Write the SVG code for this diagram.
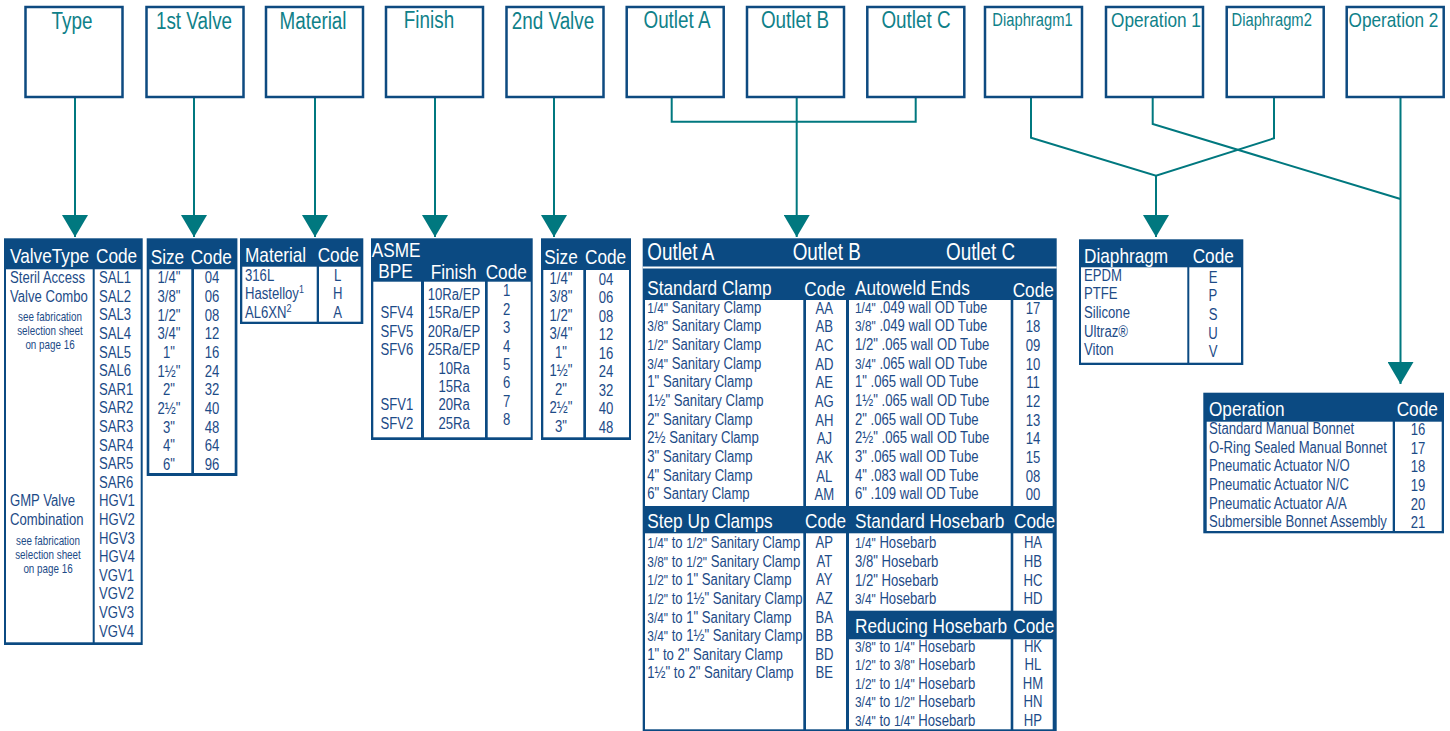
<svg xmlns="http://www.w3.org/2000/svg" width="1450" height="731" viewBox="0 0 1450 731">
<defs>
<style>
text{font-family:"Liberation Sans Narrow","Arial Narrow","Liberation Sans",Arial,sans-serif;transform:scaleX(0.82);transform-box:fill-box;transform-origin:0 0}
.box{fill:#fff;stroke:#0d4a80;stroke-width:2.5}
.lbl{fill:#0f8189;font-size:23px;text-anchor:middle}
.lbs{fill:#0f8189;font-size:18px;text-anchor:middle}
.lbo{fill:#0f8189;font-size:21px;text-anchor:middle}
.ln{fill:none;stroke:#00787f;stroke-width:2}
.bg{fill:#0b4a82}
.c{fill:#fff}
.h{fill:#fff;font-size:21px}
.ho{fill:#fff;font-size:23px}
.t{fill:#1d4b87;font-size:16px}
.m{text-anchor:middle}
.m,.lbl,.lbs,.lbo{transform-origin:50% 0}
.s{font-size:12px}
.f{font-size:14.5px}
.sup{font-size:11px}
</style>
<marker id="ah" markerUnits="userSpaceOnUse" markerWidth="22" markerHeight="26" viewBox="0 0 22 26" refX="22" refY="13" orient="auto">
<path d="M0,0 L22,13 L0,26 z" fill="#00787f"/>
</marker>
</defs>
<rect width="1450" height="731" fill="#fff"/>

<g id="connectors">
<path class="ln" d="M75,97 V237" marker-end="url(#ah)"/>
<path class="ln" d="M194,97 V237" marker-end="url(#ah)"/>
<path class="ln" d="M315,97 V237" marker-end="url(#ah)"/>
<path class="ln" d="M435,97 V237" marker-end="url(#ah)"/>
<path class="ln" d="M554,97 V237" marker-end="url(#ah)"/>
<path class="ln" d="M671.7,97 V121.7 H915.7 V97"/>
<path class="ln" d="M796.7,97 V237" marker-end="url(#ah)"/>
<path class="ln" d="M1031,97 V137.7 L1156,175.7 L1274,138.3 V97"/>
<path class="ln" d="M1156,175.7 V237" marker-end="url(#ah)"/>
<path class="ln" d="M1152.7,97 V124 L1400.5,199"/>
<path class="ln" d="M1400.5,97 V384" marker-end="url(#ah)"/>
</g>

<g id="box-type"><rect class="box" x="25.5" y="7" width="97" height="90"/><text class="lbl" x="72" y="29">Type</text></g>
<g id="box-1st-valve"><rect class="box" x="146.5" y="7" width="97" height="90"/><text class="lbl" x="194" y="29">1st Valve</text></g>
<g id="box-material"><rect class="box" x="266" y="7" width="97" height="90"/><text class="lbl" x="313" y="29">Material</text></g>
<g id="box-finish"><rect class="box" x="386" y="7" width="97" height="90"/><text class="lbl" x="429" y="28">Finish</text></g>
<g id="box-2nd-valve"><rect class="box" x="506.5" y="7" width="97" height="90"/><text class="lbl" x="553" y="29">2nd Valve</text></g>
<g id="box-outlet-a"><rect class="box" x="626.7" y="7" width="97" height="90"/><text class="lbl" x="677" y="28.3">Outlet A</text></g>
<g id="box-outlet-b"><rect class="box" x="747" y="7" width="97" height="90"/><text class="lbl" x="795" y="28.3">Outlet B</text></g>
<g id="box-outlet-c"><rect class="box" x="867.3" y="7" width="97" height="90"/><text class="lbl" x="916" y="28.3">Outlet C</text></g>
<g id="box-diaphragm1"><rect class="box" x="985" y="7" width="97" height="90"/><text class="lbs" x="1032.5" y="26">Diaphragm1</text></g>
<g id="box-operation1"><rect class="box" x="1106" y="7" width="97" height="90"/><text class="lbo" x="1156" y="26.7">Operation 1</text></g>
<g id="box-diaphragm2"><rect class="box" x="1226.7" y="7" width="97" height="90"/><text class="lbs" x="1271.7" y="26">Diaphragm2</text></g>
<g id="box-operation2"><rect class="box" x="1346.7" y="7" width="97" height="90"/><text class="lbo" x="1393.5" y="26.7">Operation 2</text></g>

<g id="table-type">
<rect class="bg" x="4" y="238.3" width="138.7" height="406.7"/>
<rect class="c" x="6" y="269.3" width="86.7" height="373"/>
<rect class="c" x="94.7" y="269.3" width="46" height="373"/>
<text class="h" x="10" y="263">ValveType</text>
<text class="h" x="96" y="263">Code</text>
<text class="t" x="10" y="283.3">Steril Access</text>
<text class="t" x="10" y="301.9">Valve Combo</text>
<text class="t s m" x="50" y="320.7">see fabrication</text>
<text class="t s m" x="50" y="335">selection sheet</text>
<text class="t s m" x="50" y="349.3">on page 16</text>
<text class="t" x="10" y="506.5">GMP Valve</text>
<text class="t" x="10" y="525.1">Combination</text>
<text class="t s m" x="48" y="545">see fabrication</text>
<text class="t s m" x="48" y="559.5">selection sheet</text>
<text class="t s m" x="48" y="573.5">on page 16</text>
<text class="t" x="99" y="283.3">SAL1</text>
<text class="t" x="99" y="301.9">SAL2</text>
<text class="t" x="99" y="320.5">SAL3</text>
<text class="t" x="99" y="339.1">SAL4</text>
<text class="t" x="99" y="357.7">SAL5</text>
<text class="t" x="99" y="376.3">SAL6</text>
<text class="t" x="99" y="394.9">SAR1</text>
<text class="t" x="99" y="413.5">SAR2</text>
<text class="t" x="99" y="432.1">SAR3</text>
<text class="t" x="99" y="450.7">SAR4</text>
<text class="t" x="99" y="469.3">SAR5</text>
<text class="t" x="99" y="487.9">SAR6</text>
<text class="t" x="99" y="506.5">HGV1</text>
<text class="t" x="99" y="525.1">HGV2</text>
<text class="t" x="99" y="543.7">HGV3</text>
<text class="t" x="99" y="562.3">HGV4</text>
<text class="t" x="99" y="580.9">VGV1</text>
<text class="t" x="99" y="599.5">VGV2</text>
<text class="t" x="99" y="618.1">VGV3</text>
<text class="t" x="99" y="636.7">VGV4</text>
</g>

<g id="table-1st-valve">
<rect class="bg" x="146.7" y="238.3" width="90.7" height="237.7"/>
<rect class="c" x="149.3" y="269.3" width="42" height="203.7"/>
<rect class="c" x="194" y="269.3" width="40.7" height="203.7"/>
<text class="h" x="150.7" y="264">Size</text>
<text class="h" x="190.7" y="264">Code</text>
<text class="t m" x="169" y="283.3">1/4"</text>
<text class="t m" x="169" y="302">3/8"</text>
<text class="t m" x="169" y="320.6">1/2"</text>
<text class="t m" x="169" y="339.3">3/4"</text>
<text class="t m" x="169" y="358">1"</text>
<text class="t m" x="169" y="376.6">1½"</text>
<text class="t m" x="169" y="395.3">2"</text>
<text class="t m" x="169" y="414">2½"</text>
<text class="t m" x="169" y="432.6">3"</text>
<text class="t m" x="169" y="451.3">4"</text>
<text class="t m" x="169" y="470">6"</text>
<text class="t m" x="212" y="283.3">04</text>
<text class="t m" x="212" y="302">06</text>
<text class="t m" x="212" y="320.6">08</text>
<text class="t m" x="212" y="339.3">12</text>
<text class="t m" x="212" y="358">16</text>
<text class="t m" x="212" y="376.6">24</text>
<text class="t m" x="212" y="395.3">32</text>
<text class="t m" x="212" y="414">40</text>
<text class="t m" x="212" y="432.6">48</text>
<text class="t m" x="212" y="451.3">64</text>
<text class="t m" x="212" y="470">96</text>
</g>

<g id="table-material">
<rect class="bg" x="240" y="238.3" width="123.3" height="85.7"/>
<rect class="c" x="242.3" y="266.7" width="74.4" height="55"/>
<rect class="c" x="319" y="266.7" width="41.7" height="55"/>
<text class="h" x="245" y="261.7">Material</text>
<text class="h" x="317.7" y="261.7">Code</text>
<text class="t" x="245" y="280.7">316L</text>
<text class="t" x="245" y="299.3">Hastelloy<tspan class="sup" dy="-6">1</tspan></text>
<text class="t" x="245" y="317.7">AL6XN<tspan class="sup" dy="-6">2</tspan></text>
<text class="t m" x="337.7" y="280.7">L</text>
<text class="t m" x="337.7" y="299.3">H</text>
<text class="t m" x="337.7" y="317.7">A</text>
</g>

<g id="table-finish">
<rect class="bg" x="371" y="238.3" width="161.7" height="201.7"/>
<rect class="c" x="373.3" y="281.7" width="47.7" height="155.6"/>
<rect class="c" x="424" y="281.7" width="61" height="155.6"/>
<rect class="c" x="487.7" y="281.7" width="43" height="155.6"/>
<text class="h" x="371.7" y="257.3">ASME</text>
<text class="h" x="378.3" y="278.3">BPE</text>
<text class="h" x="430.7" y="279.3">Finish</text>
<text class="h" x="485.7" y="279">Code</text>
<text class="t m" x="397" y="318.4">SFV4</text>
<text class="t m" x="397" y="336.8">SFV5</text>
<text class="t m" x="397" y="355.2">SFV6</text>
<text class="t m" x="397" y="410.4">SFV1</text>
<text class="t m" x="397" y="428.8">SFV2</text>
<text class="t m" x="454" y="300">10Ra/EP</text>
<text class="t m" x="454" y="318.4">15Ra/EP</text>
<text class="t m" x="454" y="336.8">20Ra/EP</text>
<text class="t m" x="454" y="355.2">25Ra/EP</text>
<text class="t m" x="454" y="373.6">10Ra</text>
<text class="t m" x="454" y="392">15Ra</text>
<text class="t m" x="454" y="410.4">20Ra</text>
<text class="t m" x="454" y="428.8">25Ra</text>
<text class="t m" x="506.7" y="296.5">1</text>
<text class="t m" x="506.7" y="314.9">2</text>
<text class="t m" x="506.7" y="333.3">3</text>
<text class="t m" x="506.7" y="351.7">4</text>
<text class="t m" x="506.7" y="370.1">5</text>
<text class="t m" x="506.7" y="388.5">6</text>
<text class="t m" x="506.7" y="406.9">7</text>
<text class="t m" x="506.7" y="425.3">8</text>
</g>

<g id="table-2nd-valve">
<rect class="bg" x="541" y="238.3" width="90" height="201.7"/>
<rect class="c" x="543.3" y="270" width="40" height="167.3"/>
<rect class="c" x="586" y="270" width="43" height="167.3"/>
<text class="h" x="544.3" y="264.3">Size</text>
<text class="h" x="585" y="264.3">Code</text>
<text class="t m" x="561" y="284">1/4"</text>
<text class="t m" x="561" y="302.5">3/8"</text>
<text class="t m" x="561" y="320.9">1/2"</text>
<text class="t m" x="561" y="339.4">3/4"</text>
<text class="t m" x="561" y="357.8">1"</text>
<text class="t m" x="561" y="376.3">1½"</text>
<text class="t m" x="561" y="394.8">2"</text>
<text class="t m" x="561" y="413.2">2½"</text>
<text class="t m" x="561" y="431.7">3"</text>
<text class="t m" x="606" y="285">04</text>
<text class="t m" x="606" y="303.5">06</text>
<text class="t m" x="606" y="321.9">08</text>
<text class="t m" x="606" y="340.4">12</text>
<text class="t m" x="606" y="358.8">16</text>
<text class="t m" x="606" y="377.3">24</text>
<text class="t m" x="606" y="395.8">32</text>
<text class="t m" x="606" y="414.2">40</text>
<text class="t m" x="606" y="432.7">48</text>
</g>

<g id="table-outlet">
<rect class="bg" x="642.7" y="238.3" width="414" height="492.7"/>
<rect class="c" x="642.7" y="266.5" width="414" height="2"/>
<text class="ho" x="647.3" y="260">Outlet A</text>
<text class="ho" x="792.7" y="260">Outlet B</text>
<text class="ho" x="946" y="260">Outlet C</text>
<rect class="c" x="645" y="300" width="158.3" height="206"/>
<rect class="c" x="806" y="300" width="40" height="206"/>
<rect class="c" x="849" y="300" width="161.7" height="206"/>
<rect class="c" x="1013.3" y="300" width="39.4" height="206"/>
<text class="h" x="647.3" y="295">Standard Clamp</text>
<text class="h" x="804.3" y="296">Code</text>
<text class="h" x="855" y="295">Autoweld Ends</text>
<text class="h" x="1012.7" y="296.7">Code</text>
<text class="t" x="647.3" y="312.7"><tspan class="f">1/4"</tspan> Sanitary Clamp</text>
<text class="t" x="647.3" y="331.4"><tspan class="f">3/8"</tspan> Sanitary Clamp</text>
<text class="t" x="647.3" y="350"><tspan class="f">1/2"</tspan> Sanitary Clamp</text>
<text class="t" x="647.3" y="368.7"><tspan class="f">3/4"</tspan> Sanitary Clamp</text>
<text class="t" x="647.3" y="387.4">1" Sanitary Clamp</text>
<text class="t" x="647.3" y="406">1½" Sanitary Clamp</text>
<text class="t" x="647.3" y="424.7">2" Sanitary Clamp</text>
<text class="t" x="647.3" y="443.4">2½ Sanitary Clamp</text>
<text class="t" x="647.3" y="462">3" Sanitary Clamp</text>
<text class="t" x="647.3" y="480.7">4" Sanitary Clamp</text>
<text class="t" x="647.3" y="499.4">6" Santary Clamp</text>
<text class="t m" x="824.3" y="313.7">AA</text>
<text class="t m" x="824.3" y="332.4">AB</text>
<text class="t m" x="824.3" y="351">AC</text>
<text class="t m" x="824.3" y="369.7">AD</text>
<text class="t m" x="824.3" y="388.4">AE</text>
<text class="t m" x="824.3" y="407">AG</text>
<text class="t m" x="824.3" y="425.7">AH</text>
<text class="t m" x="824.3" y="444.4">AJ</text>
<text class="t m" x="824.3" y="463">AK</text>
<text class="t m" x="824.3" y="481.7">AL</text>
<text class="t m" x="824.3" y="500.4">AM</text>
<text class="t" x="855" y="312.7"><tspan class="f">1/4"</tspan> .049 wall OD Tube</text>
<text class="t" x="855" y="331.4"><tspan class="f">3/8"</tspan> .049 wall OD Tube</text>
<text class="t" x="855" y="350">1/2" .065 wall OD Tube</text>
<text class="t" x="855" y="368.7"><tspan class="f">3/4"</tspan> .065 wall OD Tube</text>
<text class="t" x="855" y="387.4">1" .065 wall OD Tube</text>
<text class="t" x="855" y="406">1½" .065 wall OD Tube</text>
<text class="t" x="855" y="424.7">2" .065 wall OD Tube</text>
<text class="t" x="855" y="443.4">2½" .065 wall OD Tube</text>
<text class="t" x="855" y="462">3" .065 wall OD Tube</text>
<text class="t" x="855" y="480.7">4" .083 wall OD Tube</text>
<text class="t" x="855" y="499.4">6" .109 wall OD Tube</text>
<text class="t m" x="1033" y="313.7">17</text>
<text class="t m" x="1033" y="332.4">18</text>
<text class="t m" x="1033" y="351">09</text>
<text class="t m" x="1033" y="369.7">10</text>
<text class="t m" x="1033" y="388.4">11</text>
<text class="t m" x="1033" y="407">12</text>
<text class="t m" x="1033" y="425.7">13</text>
<text class="t m" x="1033" y="444.4">14</text>
<text class="t m" x="1033" y="463">15</text>
<text class="t m" x="1033" y="481.7">08</text>
<text class="t m" x="1033" y="500.4">00</text>
<rect class="c" x="645" y="533.3" width="158.3" height="196"/>
<rect class="c" x="806" y="533.3" width="40" height="196"/>
<rect class="c" x="849" y="533.3" width="161.7" height="77.4"/>
<rect class="c" x="1013.3" y="533.3" width="39.4" height="77.4"/>
<rect class="c" x="849" y="639.3" width="161.7" height="90"/>
<rect class="c" x="1013.3" y="639.3" width="39.4" height="90"/>
<text class="h" x="647.3" y="528.3">Step Up Clamps</text>
<text class="h" x="805" y="528.3">Code</text>
<text class="h" x="855" y="528.3">Standard Hosebarb</text>
<text class="h" x="1014" y="528.3">Code</text>
<text class="h" x="855" y="633.3">Reducing Hosebarb</text>
<text class="h" x="1013.3" y="633.3">Code</text>
<text class="t" x="647.3" y="548.3"><tspan class="f">1/4"</tspan> to <tspan class="f">1/2"</tspan> Sanitary Clamp</text>
<text class="t" x="647.3" y="566.9"><tspan class="f">3/8"</tspan> to <tspan class="f">1/2"</tspan> Sanitary Clamp</text>
<text class="t" x="647.3" y="585.5"><tspan class="f">1/2"</tspan> to 1" Sanitary Clamp</text>
<text class="t" x="647.3" y="604.1"><tspan class="f">1/2"</tspan> to 1½" Sanitary Clamp</text>
<text class="t" x="647.3" y="622.7"><tspan class="f">3/4"</tspan> to 1" Sanitary Clamp</text>
<text class="t" x="647.3" y="641.3"><tspan class="f">3/4"</tspan> to 1½" Sanitary Clamp</text>
<text class="t" x="647.3" y="659.9">1" to 2" Sanitary Clamp</text>
<text class="t" x="647.3" y="678.5">1½" to 2" Sanitary Clamp</text>
<text class="t m" x="824.3" y="548.3">AP</text>
<text class="t m" x="824.3" y="566.9">AT</text>
<text class="t m" x="824.3" y="585.5">AY</text>
<text class="t m" x="824.3" y="604.1">AZ</text>
<text class="t m" x="824.3" y="622.7">BA</text>
<text class="t m" x="824.3" y="641.3">BB</text>
<text class="t m" x="824.3" y="659.9">BD</text>
<text class="t m" x="824.3" y="678.5">BE</text>
<text class="t" x="855" y="548.3"><tspan class="f">1/4"</tspan> Hosebarb</text>
<text class="t" x="855" y="567">3/8" Hosebarb</text>
<text class="t" x="855" y="585.6">1/2" Hosebarb</text>
<text class="t" x="855" y="604.3"><tspan class="f">3/4"</tspan> Hosebarb</text>
<text class="t m" x="1033" y="548.3">HA</text>
<text class="t m" x="1033" y="567">HB</text>
<text class="t m" x="1033" y="585.6">HC</text>
<text class="t m" x="1033" y="604.3">HD</text>
<text class="t" x="855" y="651.7"><tspan class="f">3/8"</tspan> to <tspan class="f">1/4"</tspan> Hosebarb</text>
<text class="t" x="855" y="670.2"><tspan class="f">1/2"</tspan> to <tspan class="f">3/8"</tspan> Hosebarb</text>
<text class="t" x="855" y="688.7"><tspan class="f">1/2"</tspan> to <tspan class="f">1/4"</tspan> Hosebarb</text>
<text class="t" x="855" y="707.2"><tspan class="f">3/4"</tspan> to <tspan class="f">1/2"</tspan> Hosebarb</text>
<text class="t" x="855" y="725.7"><tspan class="f">3/4"</tspan> to <tspan class="f">1/4"</tspan> Hosebarb</text>
<text class="t m" x="1033" y="651.7">HK</text>
<text class="t m" x="1033" y="670.2">HL</text>
<text class="t m" x="1033" y="688.7">HM</text>
<text class="t m" x="1033" y="707.2">HN</text>
<text class="t m" x="1033" y="725.7">HP</text>
</g>

<g id="table-diaphragm">
<rect class="bg" x="1079" y="239.3" width="164.3" height="125.7"/>
<rect class="c" x="1081" y="267.3" width="106.3" height="95.4"/>
<rect class="c" x="1189.3" y="267.3" width="51.7" height="95.4"/>
<text class="h" x="1084" y="263.3">Diaphragm</text>
<text class="h" x="1192.7" y="263.3">Code</text>
<text class="t" x="1084" y="280.7">EPDM</text>
<text class="t" x="1084" y="299.4">PTFE</text>
<text class="t" x="1084" y="318.1">Silicone</text>
<text class="t" x="1084" y="336.8">Ultraz®</text>
<text class="t" x="1084" y="355.5">Viton</text>
<text class="t m" x="1213" y="282.7">E</text>
<text class="t m" x="1213" y="301.4">P</text>
<text class="t m" x="1213" y="320.1">S</text>
<text class="t m" x="1213" y="338.8">U</text>
<text class="t m" x="1213" y="357.5">V</text>
</g>

<g id="table-operation">
<rect class="bg" x="1203.3" y="392.7" width="240.7" height="140.6"/>
<rect class="c" x="1206.7" y="421.7" width="186" height="109.3"/>
<rect class="c" x="1395" y="421.7" width="46.7" height="109.3"/>
<text class="h" x="1209" y="416">Operation</text>
<text class="h" x="1396.7" y="416">Code</text>
<text class="t" x="1209" y="434">Standard Manual Bonnet</text>
<text class="t" x="1209" y="452.7">O-Ring Sealed Manual Bonnet</text>
<text class="t" x="1209" y="471.3">Pneumatic Actuator N/O</text>
<text class="t" x="1209" y="490">Pneumatic Actuator N/C</text>
<text class="t" x="1209" y="508.6">Pneumatic Actuator A/A</text>
<text class="t" x="1209" y="527.3">Submersible Bonnet Assembly</text>
<text class="t m" x="1418" y="435">16</text>
<text class="t m" x="1418" y="453.7">17</text>
<text class="t m" x="1418" y="472.3">18</text>
<text class="t m" x="1418" y="491">19</text>
<text class="t m" x="1418" y="509.6">20</text>
<text class="t m" x="1418" y="528.3">21</text>
</g>
</svg>
